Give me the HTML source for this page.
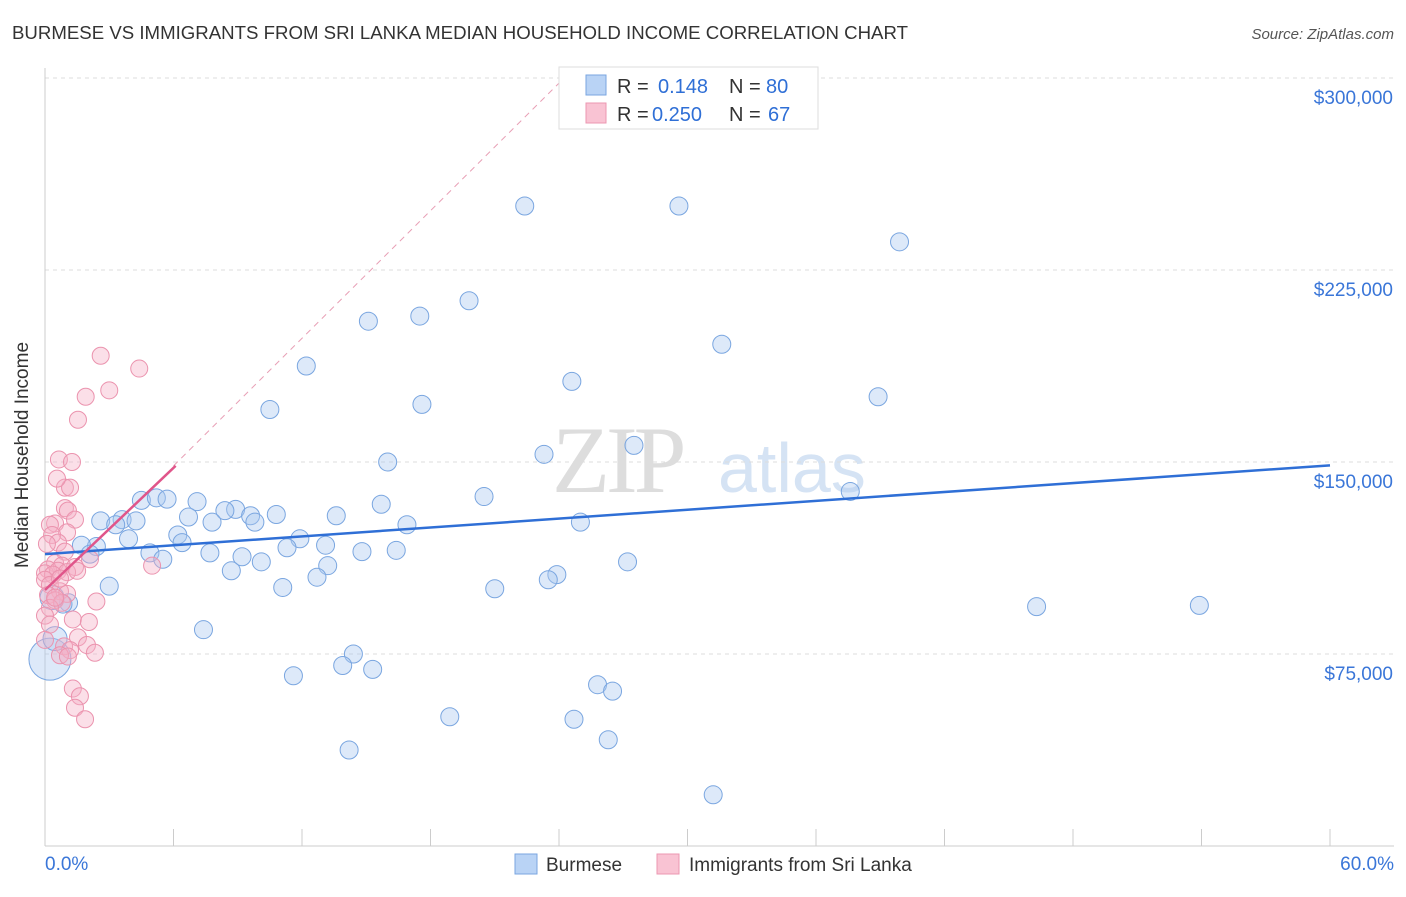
<!DOCTYPE html>
<html><head><meta charset="utf-8"><style>
body{margin:0;background:#fff;font-family:"Liberation Sans",sans-serif}
</style></head><body>
<svg id="c" width="1406" height="892" xmlns="http://www.w3.org/2000/svg" style="font-family:'Liberation Sans',sans-serif">
<text x="12" y="39" font-size="18" fill="#333" textLength="896" lengthAdjust="spacingAndGlyphs">BURMESE VS IMMIGRANTS FROM SRI LANKA MEDIAN HOUSEHOLD INCOME CORRELATION CHART</text>
<text x="1394" y="39" font-size="15" fill="#555" text-anchor="end" font-style="italic">Source: ZipAtlas.com</text>
<g><text x="552" y="492" font-size="95" fill="#ddd" font-family="Liberation Serif" letter-spacing="-4">ZIP</text><text x="718" y="492" font-size="70" fill="#d5e3f4">atlas</text></g>
<g id="grid"></g>
<g id="axes"></g>
<g id="pts"></g>
<g id="trend"></g>
<text x="28" y="455" font-size="19" fill="#333" text-anchor="middle" transform="rotate(-90 28 455)">Median Household Income</text>
<g>
<rect x="559" y="67" width="259" height="62" fill="#fff" stroke="#ddd"/>
<rect x="586" y="75" width="20" height="20" fill="#b9d3f5" stroke="#7aa6e0"/>
<rect x="586" y="103" width="20" height="20" fill="#f9c3d3" stroke="#ec97b1"/>
<text x="617" y="93" font-size="20" fill="#333">R =</text><text x="658" y="93" font-size="20" fill="#2f6fd6">0.148</text>
<text x="729" y="93" font-size="20" fill="#333">N =</text><text x="766" y="93" font-size="20" fill="#2f6fd6">80</text>
<text x="617" y="121" font-size="20" fill="#333">R =</text><text x="652" y="121" font-size="20" fill="#2f6fd6">0.250</text>
<text x="729" y="121" font-size="20" fill="#333">N =</text><text x="768" y="121" font-size="20" fill="#2f6fd6">67</text>
</g>
<g>
<rect x="515" y="854" width="22" height="20" fill="#b9d3f5" stroke="#7aa6e0"/>
<text x="546" y="871" font-size="19" fill="#333">Burmese</text>
<rect x="657" y="854" width="22" height="20" fill="#f9c3d3" stroke="#ec97b1"/>
<text x="689" y="871" font-size="19" fill="#333">Immigrants from Sri Lanka</text>
</g>
</svg>
<script>
const yTicks=[75000,150000,225000,300000];
const yTickLabels=["$75,000","$150,000","$225,000","$300,000"];
const xEnds=["0.0%","60.0%"];
const blueX=[22.4,29.6,39.9,19.8,17.5,15.1,31.6,12.2,24.6,38.9,17.6,10.5,27.5,23.3,16.0,37.6,20.5,4.5,5.2,5.7,7.1,15.7,8.9,8.4,9.6,10.8,3.6,2.6,4.25,6.7,7.8,9.8,13.6,16.9,25.0,3.3,6.2,11.9,3.9,6.4,13.1,11.3,2.4,1.7,4.9,7.7,9.2,14.8,16.4,2.1,5.5,10.1,13.2,27.2,8.7,12.7,23.9,23.5,3.0,11.1,21.0,46.3,53.9,1.1,0.84,7.4,14.4,13.9,15.3,11.6,25.8,26.5,18.9,24.7,26.3,14.2,31.2,0.23,0.47,0.33];
const blueY=[250000,250000,236000,213000,207000,205000,196000,187500,181500,175500,172500,170500,156500,153000,150000,138500,136500,135000,136000,135500,134500,133500,131500,131000,129000,129500,127500,127000,127000,128500,126500,126500,129000,125500,126500,125500,121500,120000,120000,118500,117500,116500,117000,117500,114500,114500,113000,115000,115500,114000,112000,111000,109500,111000,107500,105000,106000,104000,101500,101000,100500,93500,94000,95000,94500,84500,75000,70500,69000,66500,63000,60500,50500,49500,41500,37500,20000,73000,81000,97000];
const pinkX=[2.6,4.4,3.0,1.9,1.54,0.65,1.26,0.93,1.17,0.56,0.93,1.07,1.4,0.47,0.23,1.03,0.33,0.61,0.09,0.93,2.1,5.0,0.47,0.79,1.4,0.14,0,0.61,1.03,1.5,0.37,0,0.23,0.7,0.14,1.03,2.4,0.47,0.79,0.23,0,1.3,2.05,0.23,1.54,1.96,0.89,1.17,2.33,0.7,1.07,1.3,1.63,1.4,1.87,0,0.47,0.7];
const pinkY=[191500,186500,178000,175500,166500,151000,150000,140000,140000,143500,132000,131000,127500,126000,125500,122500,121500,118500,118000,115000,112000,109500,110500,109500,109000,108000,106500,107500,107000,107500,106000,104000,102000,99500,98000,98500,95500,96000,95000,93000,90000,88500,87500,86500,81500,78500,78000,76500,75500,74500,74000,61500,58500,54000,49500,80500,97000,104500];
const xMin=0,xMax=60,x0=45,x1=1330,yBase=654,yScale=192/75000;
const X=v=>x0+(v-xMin)/(xMax-xMin)*(x1-x0);
const Y=v=>yBase-(v-75000)*yScale;
const NS="http://www.w3.org/2000/svg";
function mk(p,t,a){const e=document.createElementNS(NS,t);for(const k in a)e.setAttribute(k,a[k]);p.appendChild(e);return e;}
const grid=document.getElementById('grid'),axes=document.getElementById('axes'),pts=document.getElementById('pts'),tr=document.getElementById('trend');
yTicks.forEach((v,i)=>{
 const l=mk(grid,'line',{x1:45,x2:1394,y1:Y(v),y2:Y(v),stroke:'#ddd','stroke-dasharray':'4,4'});
 
 
 const t=mk(axes,'text',{x:1393,y:Y(v)+26,'font-size':19,fill:'#3a76d8','text-anchor':'end'});t.textContent=yTickLabels[i];
 
 
});
mk(axes,'line',{x1:45,x2:45,y1:68,y2:846,stroke:'#ccc'});
mk(axes,'line',{x1:45,x2:1394,y1:846,y2:846,stroke:'#ccc'});
for(let i=0;i<=10;i++){const x=X(i*6);const t=mk(axes,'line',{x1:x,x2:x,y1:829,y2:846,stroke:'#ccc'});
 
 }
const xl0=mk(axes,'text',{x:45,y:870,'font-size':19,fill:'#3a76d8'});xl0.textContent=xEnds[0];


const xl1=mk(axes,'text',{x:1394,y:870,'font-size':19,fill:'#3a76d8','text-anchor':'end'});xl1.textContent=xEnds[1];


blueX.forEach((v,i)=>{const r=(i>=77)?(i==77?21:12):9;const c=mk(pts,'circle',{cx:X(v),cy:Y(blueY[i]),r:r,fill:'rgba(170,200,240,0.4)',stroke:'#7aa6e0','stroke-width':1});
 
 });
pinkX.forEach((v,i)=>{const c=mk(pts,'circle',{cx:X(v),cy:Y(pinkY[i]),r:8.5,fill:'rgba(245,175,198,0.4)',stroke:'#eb93ae','stroke-width':1});
 
 });
const bl=mk(tr,'line',{x1:X(0),y1:Y(114000),x2:X(60),y2:Y(148700),stroke:'#2f6fd6','stroke-width':2.5});


const pd=mk(tr,'line',{x1:X(6),y1:Y(148500),x2:X(24),y2:Y(298000),stroke:'#e8a0b6','stroke-width':1,'stroke-dasharray':'6,5'});


const pl=mk(tr,'line',{x1:X(0),y1:Y(100000),x2:X(6.1),y2:Y(148500),stroke:'#e0558a','stroke-width':2.5});


</script>
</body></html>
